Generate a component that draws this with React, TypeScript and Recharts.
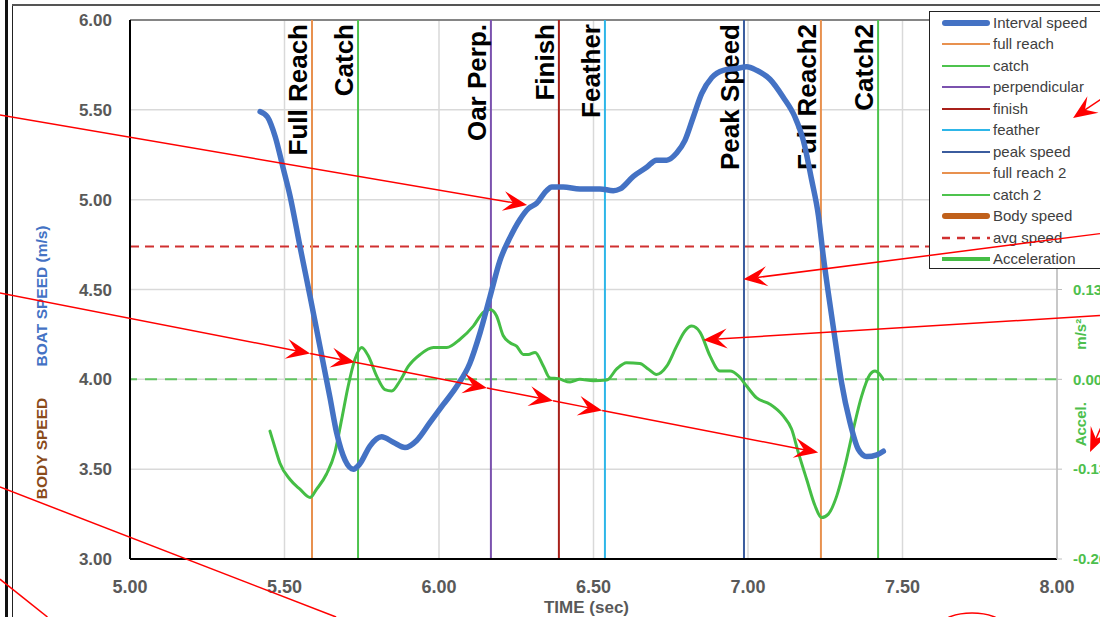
import React from 'react';
import { ComposedChart, Line, XAxis, YAxis, CartesianGrid, ReferenceLine, ReferenceDot, Legend } from 'recharts';

const W = 1140;
const H = 617;
const FONT = '"Liberation Sans", Arial, sans-serif';

// ---- data ----
const speedTime = [5.421, 5.445, 5.470, 5.495, 5.518, 5.550, 5.583, 5.615, 5.647, 5.669, 5.696, 5.723, 5.744, 5.777, 5.814, 5.852, 5.890, 5.928, 5.971, 6.014, 6.057, 6.100, 6.133, 6.165, 6.197, 6.230, 6.262, 6.289, 6.316, 6.348, 6.365, 6.402, 6.456, 6.521, 6.564, 6.586, 6.629, 6.672, 6.704, 6.737, 6.769, 6.796, 6.823, 6.850, 6.883, 6.920, 6.963, 6.996, 7.028, 7.071, 7.114, 7.152, 7.179, 7.206, 7.228, 7.244, 7.260, 7.282, 7.303, 7.330, 7.357, 7.384, 7.417, 7.438];
const speedValue = [5.49, 5.46, 5.35, 5.18, 5.02, 4.74, 4.46, 4.18, 3.90, 3.70, 3.55, 3.50, 3.53, 3.63, 3.68, 3.65, 3.62, 3.66, 3.76, 3.86, 3.96, 4.09, 4.26, 4.46, 4.66, 4.79, 4.89, 4.95, 4.98, 5.05, 5.07, 5.07, 5.06, 5.06, 5.05, 5.06, 5.13, 5.18, 5.22, 5.22, 5.26, 5.33, 5.46, 5.59, 5.68, 5.72, 5.73, 5.74, 5.72, 5.67, 5.57, 5.46, 5.33, 5.11, 4.91, 4.68, 4.48, 4.22, 3.98, 3.76, 3.61, 3.57, 3.58, 3.60];

const accelTime = [5.453, 5.470, 5.485, 5.518, 5.550, 5.583, 5.604, 5.636, 5.663, 5.685, 5.706, 5.728, 5.750, 5.771, 5.798, 5.825, 5.847, 5.874, 5.901, 5.939, 5.982, 6.025, 6.068, 6.111, 6.143, 6.165, 6.186, 6.208, 6.230, 6.251, 6.273, 6.289, 6.311, 6.338, 6.359, 6.386, 6.424, 6.456, 6.499, 6.543, 6.575, 6.607, 6.650, 6.677, 6.704, 6.737, 6.769, 6.796, 6.818, 6.845, 6.877, 6.909, 6.942, 6.969, 6.996, 7.028, 7.071, 7.114, 7.141, 7.163, 7.190, 7.217, 7.238, 7.260, 7.287, 7.314, 7.341, 7.368, 7.395, 7.411, 7.427, 7.438];
const accelValue = [-0.075, -0.100, -0.121, -0.145, -0.159, -0.171, -0.159, -0.137, -0.106, -0.058, -0.010, 0.029, 0.046, 0.034, 0.005, -0.015, -0.017, -0.002, 0.019, 0.036, 0.046, 0.046, 0.058, 0.077, 0.097, 0.101, 0.092, 0.063, 0.053, 0.048, 0.036, 0.036, 0.039, 0.019, 0.002, 0.001, -0.004, 0.000, -0.002, -0.001, 0.015, 0.024, 0.023, 0.015, 0.007, 0.019, 0.048, 0.070, 0.077, 0.068, 0.034, 0.012, 0.012, 0.005, -0.010, -0.027, -0.036, -0.053, -0.072, -0.106, -0.145, -0.183, -0.200, -0.195, -0.169, -0.125, -0.072, -0.024, 0.007, 0.012, 0.007, 0.000];

const avgSpeed = 4.74;

const eventNames = ['Full Reach', 'Catch', 'Oar Perp.', 'Finish', 'Feather', 'Peak Speed', 'Full Reach2', 'Catch2'];
const eventTimes = [5.589, 5.738, 6.168, 6.388, 6.537, 6.987, 7.236, 7.421];
const eventColors = ['#E8914F', '#4DC34D', '#7B52AE', '#A8201A', '#2EB6E8', '#3B5C9E', '#E8914F', '#4DC34D'];

const xTicks = [5, 5.5, 6, 6.5, 7, 7.5, 8];
const speedTicks = [3, 3.5, 4, 4.5, 5, 5.5, 6];
const accelDomain = [-0.26, 0.52];
const accelTicks = [-0.26, -0.13, 0, 0.13];

const legendNames = ['Interval speed', 'full reach', 'catch', 'perpendicular', 'finish', 'feather', 'peak speed', 'full reach 2', 'catch 2', 'Body speed', 'avg speed', 'Acceleration'];
const legendColors = ['#4472C4', '#E8914F', '#4DC34D', '#7B52AE', '#A8201A', '#2EB6E8', '#3B5C9E', '#E8914F', '#4DC34D', '#C0601A', '#D03030', '#45BE45'];
const legendWidths = [6, 2, 2, 2, 2, 2, 2, 2, 2, 6, 2.5, 4];
const legendDashed = [false, false, false, false, false, false, false, false, false, false, true, false];

// annotation arrows (data coordinates: time, boat speed)
const annoFromT = [4.579, 8.139, 8.139, 4.579, 5.583, 5.728, 6.155, 6.369, 6.528, 8.172, 8.146, 4.579, 4.579];
const annoFromS = [5.471, 4.811, 4.355, 4.481, 4.144, 4.095, 3.952, 3.881, 3.827, 5.594, 3.746, 3.401, 2.888];
const annoToT = [6.285, 6.985, 6.855, 5.583, 5.728, 6.155, 6.369, 6.528, 7.227, 8.052, 8.107, 5.667, 4.733];
const annoToS = [4.970, 4.557, 4.219, 4.144, 4.095, 3.952, 3.881, 3.827, 3.593, 5.455, 3.596, 2.677, 2.677];
const annoHead = [true, true, true, true, true, true, true, true, true, true, true, false, false];
const circleT = 7.725;
const circleS = 2.633;

const speedData = speedTime.map((t, i) => ({ t, v: speedValue[i] }));
const accelData = accelTime.map((t, i) => ({ t, v: accelValue[i] }));

const fmt2 = (v: number) => v.toFixed(2);

const EventLabel = (props: any) => {
  const vb = props.viewBox || {};
  const x = (vb.x ?? 0) - 5;
  const y = (vb.y ?? 20) + 4;
  return (
    <text x={x} y={y} transform={`rotate(-90 ${x} ${y})`} textAnchor="end" fontSize={26} fontWeight={700} fill="#000">
      {props.value}
    </text>
  );
};

const LeftTitle = (props: any) => {
  const vb = props.viewBox || { x: 0, y: 20, width: 130, height: 539 };
  const bx = (vb.x ?? 0) + 47;
  const y1 = (vb.y ?? 20) + (vb.height ?? 539) * 0.512;
  const y2 = (vb.y ?? 20) + (vb.height ?? 539) * 0.795;
  return (
    <g>
      <text x={bx} y={y1} transform={`rotate(-90 ${bx} ${y1})`} textAnchor="middle" fontSize={15.5} fontWeight={700} fill="#4472C4">BOAT SPEED (m/s)</text>
      <text x={bx} y={y2} transform={`rotate(-90 ${bx} ${y2})`} textAnchor="middle" fontSize={15.5} fontWeight={700} fill="#8A4B1A">BODY SPEED</text>
    </g>
  );
};

const RightTitle = (props: any) => {
  const vb = props.viewBox || { x: 1057, y: 20, width: 83, height: 539 };
  const bx = (vb.x ?? 1057) + 29;
  const y1 = (vb.y ?? 20) + (vb.height ?? 539) * 0.583;
  const y2 = (vb.y ?? 20) + (vb.height ?? 539) * 0.75;
  return (
    <g>
      <text x={bx} y={y1} transform={`rotate(-90 ${bx} ${y1})`} textAnchor="middle" fontSize={15} fontWeight={700} fill="#4DBF4D">m/s²</text>
      <text x={bx} y={y2} transform={`rotate(-90 ${bx} ${y2})`} textAnchor="middle" fontSize={15} fontWeight={700} fill="#4DBF4D">Accel.</text>
    </g>
  );
};

const LegendBox = () => (
  <div style={{ width: 200, height: 258, boxSizing: 'border-box', border: '1.5px solid #222', background: '#fff', fontFamily: FONT }}>
    {legendNames.map((name, i) => (
      <div key={name} style={{ height: 21.5, display: 'flex', alignItems: 'center' }}>
        <svg width={48} height={10} style={{ marginLeft: 12, flex: '0 0 auto', overflow: 'visible' }}>
          <line x1={legendWidths[i] > 4 ? 3 : 0} y1={5} x2={legendWidths[i] > 4 ? 45 : 48} y2={5} stroke={legendColors[i]} strokeWidth={legendWidths[i]}
            strokeDasharray={legendDashed[i] ? '8 7' : undefined} strokeLinecap={legendWidths[i] > 4 ? 'round' : 'butt'} />
        </svg>
        <span style={{ marginLeft: 3, fontSize: 15, color: '#404040', whiteSpace: 'nowrap', lineHeight: '16px' }}>{name}</span>
      </div>
    ))}
  </div>
);

const ArrowShape = (props: any) => {
  const { x1, y1, x2, y2, head } = props;
  if ([x1, y1, x2, y2].some((v) => typeof v !== 'number' || isNaN(v))) return null;
  const dx = x2 - x1;
  const dy = y2 - y1;
  const len = Math.hypot(dx, dy) || 1;
  const ux = dx / len;
  const uy = dy / len;
  const px = -uy;
  const py = ux;
  const L = 24;
  const hw = 10;
  const bx = x2 - ux * L;
  const by = y2 - uy * L;
  const nx = x2 - ux * L * 0.6;
  const ny = y2 - uy * L * 0.6;
  const pts = `${x2},${y2} ${bx + px * hw},${by + py * hw} ${nx},${ny} ${bx - px * hw},${by - py * hw}`;
  return (
    <g>
      <line x1={x1} y1={y1} x2={head ? nx : x2} y2={head ? ny : y2} stroke="#FF0000" strokeWidth={1.5} />
      {head && <polygon points={pts} fill="#FF0000" />}
    </g>
  );
};

const CircleShape = (props: any) => {
  const { cx, cy } = props;
  if (typeof cx !== 'number' || typeof cy !== 'number') return null;
  return <ellipse cx={cx} cy={cy} rx={30} ry={12} fill="none" stroke="#FF0000" strokeWidth={1.5} />;
};

export default function App() {
  return (
    <div style={{ position: 'fixed', left: 0, top: 0, width: 1100, height: 617, overflow: 'hidden', background: '#fff', fontFamily: FONT }}>
      <div style={{ position: 'absolute', left: 5, top: 0, width: 3, height: 617, background: '#111' }} />
      <div style={{ position: 'absolute', left: 11.5, top: 4, width: 1.5, height: 613, background: '#222' }} />
      <div style={{ position: 'absolute', left: 11.5, top: 4, width: 1089, height: 1.5, background: '#555' }} />
      <div style={{ position: 'absolute', left: 0, top: 0 }}>
        <ComposedChart width={W} height={H} margin={{ top: 20, right: 0, bottom: 0, left: 0 }}>
          <CartesianGrid yAxisId="left" stroke="#D9D9D9" strokeWidth={1.5} />
          <XAxis
            type="number"
            dataKey="t"
            domain={[5, 8]}
            ticks={xTicks}
            interval={0}
            tickFormatter={fmt2}
            allowDataOverflow
            height={58}
            axisLine={{ stroke: '#000', strokeWidth: 2 }}
            tickLine={false}
            tickSize={0}
            tickMargin={21}
            tick={{ fill: '#595959', fontSize: 18, fontWeight: 700 }}
            label={{ value: 'TIME (sec)', position: 'insideBottom', offset: 4, dx: -7, fill: '#595959', fontSize: 17, fontWeight: 700 }}
          />
          <YAxis
            yAxisId="left"
            width={130}
            domain={[3, 6]}
            ticks={speedTicks}
            interval={0}
            tickFormatter={fmt2}
            allowDataOverflow
            axisLine={{ stroke: '#000', strokeWidth: 2 }}
            tickLine={false}
            tickSize={0}
            tickMargin={18}
            tick={{ fill: '#595959', fontSize: 17, fontWeight: 700 }}
            label={{ content: LeftTitle }}
          />
          <YAxis
            yAxisId="right"
            orientation="right"
            width={83}
            domain={accelDomain}
            ticks={accelTicks}
            interval={0}
            tickFormatter={fmt2}
            allowDataOverflow
            axisLine={{ stroke: '#BFBFBF', strokeWidth: 1.5 }}
            tickLine={{ stroke: '#BFBFBF' }}
            tickSize={5}
            tickMargin={11}
            tick={{ fill: '#4DBF4D', fontSize: 15, fontWeight: 700, textAnchor: 'start' }}
            label={{ content: RightTitle }}
          />
          <ReferenceLine yAxisId="left" y={6} stroke="#666" strokeWidth={1.5} />
          <ReferenceLine yAxisId="left" y={avgSpeed} stroke="#D03030" strokeWidth={2} strokeDasharray="9 6" />
          <ReferenceLine yAxisId="right" y={0} stroke="#62C462" strokeWidth={2} strokeDasharray="12 8" />
          {eventTimes.map((t, i) => (
            <ReferenceLine
              key={eventNames[i]}
              yAxisId="left"
              x={t}
              stroke={eventColors[i]}
              strokeWidth={2}
              label={{ value: eventNames[i], content: EventLabel }}
            />
          ))}
          <Line yAxisId="right" data={accelData} dataKey="v" type="monotone" stroke="#45BE45" strokeWidth={3} dot={false} activeDot={false} isAnimationActive={false} strokeLinecap="round" />
          <Line yAxisId="left" data={speedData} dataKey="v" type="monotone" stroke="#4472C4" strokeWidth={5.5} dot={false} activeDot={false} isAnimationActive={false} strokeLinecap="round" />
          <Legend layout="vertical" align="center" verticalAlign="middle" wrapperStyle={{ left: 929, top: 11, width: 200, height: 258 }} content={() => <LegendBox />} />
        </ComposedChart>
      </div>
      <div style={{ position: 'absolute', left: 0, top: 0 }}>
        <ComposedChart width={W} height={H} margin={{ top: 20, right: 83, bottom: 58, left: 130 }}>
          <XAxis hide type="number" dataKey="t" domain={[5, 8]} allowDataOverflow />
          <YAxis hide yAxisId="left" domain={[3, 6]} allowDataOverflow />
          {annoFromT.map((t, i) => (
            <ReferenceLine
              key={`anno-${i}`}
              yAxisId="left"
              ifOverflow="visible"
              segment={[{ x: t, y: annoFromS[i] }, { x: annoToT[i], y: annoToS[i] }]}
              shape={(p: any) => <ArrowShape {...p} head={annoHead[i]} />}
            />
          ))}
          <ReferenceDot yAxisId="left" x={circleT} y={circleS} ifOverflow="visible" shape={(p: any) => <CircleShape {...p} />} />
        </ComposedChart>
      </div>
    </div>
  );
}
